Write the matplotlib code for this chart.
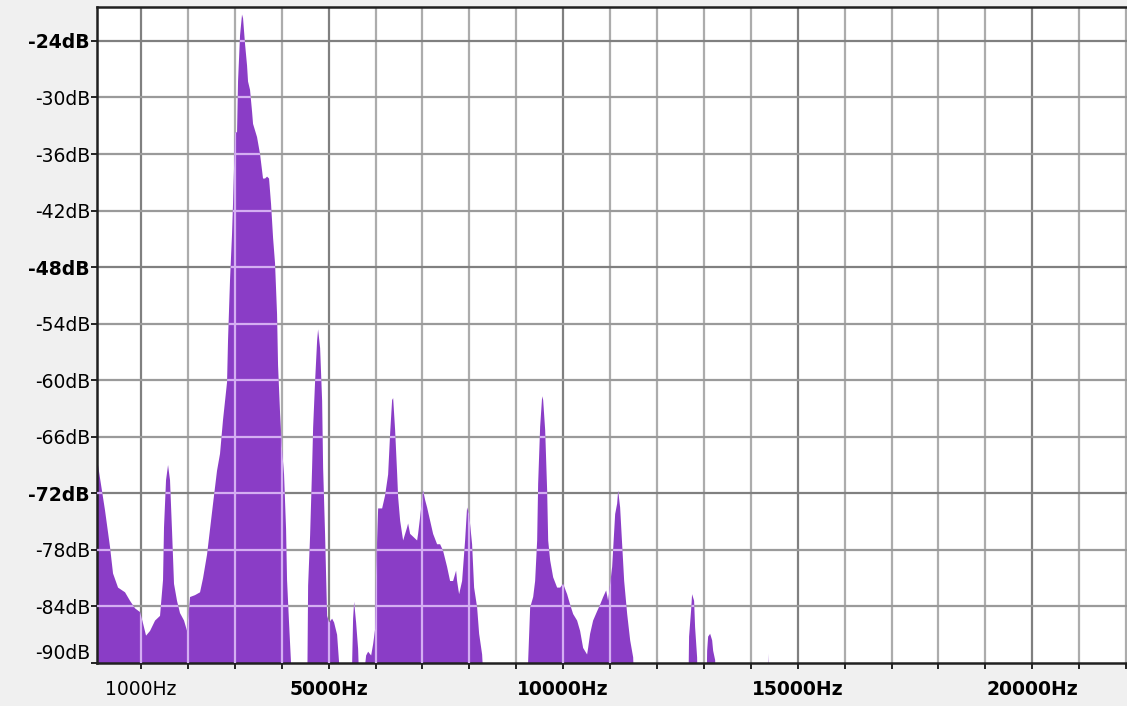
import matplotlib.pyplot as plt
import matplotlib.transforms as mtransforms

# spectrum (Hz, dB); -95 means "nothing drawn"
freq = [62, 126, 232, 339, 403, 510, 659, 765, 872, 979, 1043, 1107, 1192, 1299, 1405,
        1469, 1490, 1533, 1576, 1618, 1661, 1703, 1767, 1831, 1917, 1981, 2045, 2151,
        2258, 2322, 2407, 2471, 2535, 2620, 2684, 2748, 2834, 2855, 2897, 2940, 2961,
        3004, 3047, 3068, 3111, 3153, 3175, 3217, 3260, 3281, 3324, 3367, 3388, 3473,
        3537, 3601, 3644, 3687, 3729, 3772, 3815, 3857, 3900, 3921, 3964, 4006, 4049,
        4092, 4113, 4155, 4198, 4219,
        4540, 4562, 4605, 4647, 4669, 4711, 4754, 4775, 4818, 4861, 4882, 4924, 4967,
        5010, 5074, 5116, 5180, 5223, 5244,
        5479, 5521, 5543, 5585, 5628, 5671,
        5799, 5842, 5906, 5948, 5991, 6012, 6055, 6140, 6204, 6268, 6311, 6353, 6375,
        6417, 6460, 6481, 6524, 6566, 6588, 6673, 6694, 6737, 6801, 6886, 6907, 6950,
        7014, 7056, 7099, 7163, 7227, 7312, 7376, 7440, 7525, 7589, 7653, 7717, 7738,
        7781, 7845, 7909, 7951, 7994, 8058, 8101, 8165, 8208, 8272, 8336,
        9232, 9253, 9296, 9360, 9402, 9445, 9466, 9509, 9552, 9573, 9616, 9658, 9680,
        9722, 9786, 9871, 9935, 9999, 10084, 10148, 10212, 10297, 10361, 10425, 10510,
        10532, 10574, 10638, 10724, 10788, 10852, 10916, 10958, 11044, 11108, 11150,
        11172, 11214, 11257, 11300, 11364, 11428, 11492, 11534,
        12001, 12022, 12044,
        12662, 12684, 12727, 12748, 12791, 12812, 12855, 12876,
        13048, 13069, 13090, 13133, 13176, 13197, 13240, 13261,
        14349, 14370, 14391, 22050]
level = [-68.3, -70.4, -73.8, -77.7, -80.5, -82.0, -82.5, -83.4, -84.2, -84.6, -85.8, -87.1,
         -86.6, -85.5, -85.0,
         -81.2, -75.6, -70.6, -69.0, -70.6, -76.0, -81.6, -83.4, -84.7, -85.5, -86.6, -83.0,
         -82.8, -82.5, -81.0, -78.5, -75.8, -73.1, -69.6, -67.8, -64.2, -60.2, -55.7, -49.4,
         -44.5, -41.3, -33.7, -33.7, -28.3, -23.4, -21.2, -21.6, -24.3, -26.6, -28.3, -29.2,
         -31.5, -32.8, -34.2, -36.0, -38.6, -38.6, -38.4, -38.6, -41.3, -44.9, -47.6, -53.0,
         -58.4, -63.5, -67.3, -70.0, -75.8, -81.2, -85.7, -90.0, -95,
         -95, -81.8, -76.4, -69.3, -65.0, -60.1, -55.8, -54.6, -56.6, -62.2, -69.3, -76.4,
         -85.0, -85.7, -85.3, -85.7, -87.0, -90.0, -95,
         -95, -85.3, -83.5, -85.7, -88.5, -95,
         -89.2, -88.8, -89.2, -88.0, -86.4, -80.0, -73.6, -73.6, -72.2, -70.0, -65.6, -62.1,
         -61.9, -65.3, -69.9, -72.4, -74.9, -76.3, -77.0, -75.6, -75.2, -76.3, -76.6, -77.0,
         -76.3, -74.5, -71.7, -72.7, -73.5, -74.9, -76.3, -77.4, -77.4, -78.1, -79.8, -81.3,
         -81.3, -80.2, -81.3, -82.7, -81.3, -77.0, -73.5, -74.2, -77.4, -82.0, -84.1, -86.9,
         -89.1, -95,
         -95, -89.8, -84.1, -83.0, -81.3, -77.0, -71.0, -64.9, -61.7, -62.1, -65.3, -71.7,
         -77.0, -79.1, -80.9, -82.0, -82.0, -81.6, -82.7, -83.8, -84.8, -85.5, -86.6, -88.4,
         -89.1, -88.4, -86.9, -85.5, -84.5, -83.8, -83.0, -82.3, -83.4, -79.8, -74.2, -73.1,
         -71.7, -73.5, -77.4, -81.3, -84.8, -87.6, -89.4, -95,
         -95, -89.6, -95,
         -95, -87.2, -84.4, -82.7, -83.4, -86.2, -89.4, -95,
         -95, -88.7, -87.2, -86.9, -87.6, -88.7, -89.7, -95,
         -95, -89.0, -95, -95]

db_ticks = [-24, -30, -36, -42, -48, -54, -60, -66, -72, -78, -84, -90]
hz_ticks = [1000, 5000, 10000, 15000, 20000]
hz_minor = list(range(1000, 23000, 1000))

purple = "#8a3dc6"

fig = plt.figure(figsize=(11.27, 7.06), dpi=100, facecolor="#f0f0f0")
ax = fig.add_axes([0.0861, 0.0609, 0.9139, 0.9292])
ax.set_facecolor("white")

# grey grid underneath the spectrum
for f in hz_minor:
    c = "#808080" if f in hz_ticks else "#acacac"
    ax.axvline(f, color=c, lw=1.6, zorder=1)
for d in db_ticks[:-1]:
    c = "#808080" if d in (-24, -48, -72) else "#9a9a9a"
    ax.axhline(d, color=c, lw=1.6, zorder=1)

poly = ax.fill_between(freq, level, -100, color=purple, lw=0, zorder=2)

# grid shows through the spectrum as light lavender
clip = poly.get_paths()[0]
for f in hz_minor:
    ln = ax.axvline(f, color="#d4aef2", lw=1.6, zorder=3)
    ln.set_clip_path(clip, ax.transData)
for d in db_ticks[:-1]:
    ln = ax.axhline(d, color="#d4aef2", lw=1.6, zorder=3)
    ln.set_clip_path(clip, ax.transData)

ax.set_xlim(62, 22020)
ax.set_ylim(-90, -20.4)

ax.set_yticks(db_ticks)
ax.set_yticklabels([f"{d}dB" for d in db_ticks], family="DejaVu Sans", fontsize=13.5)
for lab, d in zip(ax.get_yticklabels(), db_ticks):
    if d in (-24, -48, -72):
        lab.set_fontweight("bold")
    if d == -90:
        lab.set_verticalalignment("bottom")
        lab.set_transform(lab.get_transform() +
                          mtransforms.ScaledTranslation(0, 3 / 100, fig.dpi_scale_trans))

ax.set_xticks(hz_ticks)
ax.set_xticks(hz_minor, minor=True)
ax.set_xticklabels([f"{h}Hz" for h in hz_ticks], family="DejaVu Sans", fontsize=13.5)
for lab, h in zip(ax.get_xticklabels(), hz_ticks):
    if h != 1000:
        lab.set_fontweight("bold")

ax.tick_params(axis="y", direction="out", length=4, width=1.2, pad=1, colors="black")
ax.tick_params(axis="x", which="both", direction="out", length=4, width=1.2, pad=8,
               colors="black")
ax.tick_params(axis="x", which="minor", labelbottom=False)

for s in ["left", "bottom", "top"]:
    ax.spines[s].set_color("#202020")
    ax.spines[s].set_linewidth(1.8)
ax.spines["right"].set_visible(False)

fig.savefig("out.png", dpi=100, facecolor=fig.get_facecolor())
